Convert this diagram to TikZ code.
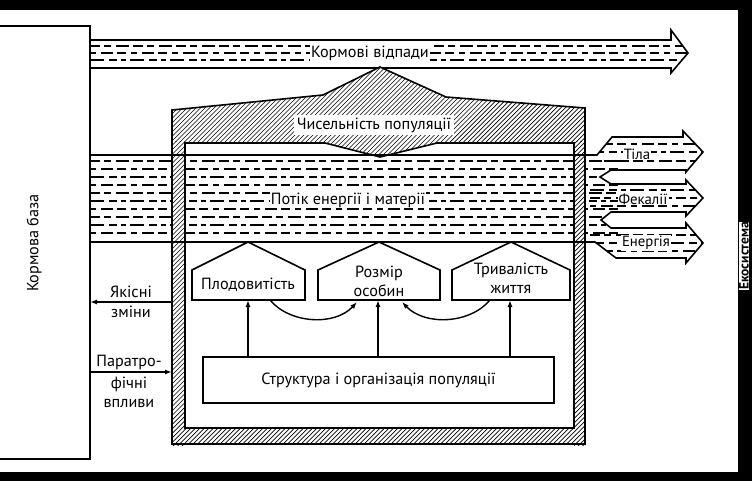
\documentclass[tikz,border=0pt]{standalone}
\usepackage{fontspec}
\setmainfont{PT Sans}
\usetikzlibrary{arrows.meta,calc}
\tikzset{
  ol/.style={line width=1.6pt},
  dA/.style={line width=1.2pt, dash pattern=on 10pt off 4pt on 7pt off 5pt on 13pt off 4pt},
  dB/.style={line width=1.2pt, dash pattern=on 6pt off 5pt on 12pt off 4pt on 9pt off 5pt},
  dC/.style={line width=1.2pt, dash pattern=on 14pt off 5pt on 8pt off 4pt on 5pt off 4pt},
  lbl/.style={font=\fontsize{16.2}{19}\selectfont, inner sep=1pt, align=center},
  slbl/.style={font=\fontsize{14.8}{17}\selectfont, inner sep=1pt, fill=white},
  tip/.style={-{Latex[length=7pt,width=5pt]}, line width=1.4pt},
  hl/.style={line width=0.7pt},
  pent/.style={ol, fill=white}
}
\newcommand{\hatchpiece}[1]{%
  \fill[white] #1;
  \begin{scope}
    \clip #1;
    \foreach \c in {-300,-295.5,...,600}{\draw[hl] (\c,460) -- (\c+420,40);}
  \end{scope}}
\begin{document}
\begin{tikzpicture}[x=1pt,y=-1pt,line join=miter]
\useasboundingbox (0,0) rectangle (752,481);
\fill[white] (0,0) rectangle (752,481);
% frame bars
\fill[black] (0,0) rectangle (752,10);
\fill[black] (738,0) rectangle (752,481);
\fill[black] (0,472) rectangle (752,481);
% feed base box
\draw[ol] (0,26) -- (90,26) -- (90,459) -- (0,459);
\node[lbl, rotate=90] (kb) at (34,243) {Кормова база};
% top band
\def\topband{(90,40) -- (671,40) -- (671,30) -- (688,53) -- (671,73) -- (671,68) -- (90,68) -- cycle}
\begin{scope}
  \clip \topband;
  \foreach \y/\st in {46/dA,53/dB,60/dC}{\draw[\st] (90,\y) -- (700,\y);}
\end{scope}
\draw[ol] \topband;
\node[lbl, fill=white] (kv) at (370,53) {Кормові відпади};
% energy band and fan
\def\eband{(90,155) -- (597,155) -- (612,137) -- (683,137) -- (683,131) -- (703,152) -- (686,172) -- (686,170) -- (611,170) -- (600,177) -- (611,184) -- (686,184) -- (686,180) -- (703,198) -- (686,216) -- (686,212) -- (611,212) -- (601,220) -- (611,228) -- (686,228) -- (686,223) -- (703,243) -- (686,263) -- (686,258) -- (616,258) -- (595,242) -- (90,242) -- cycle}
\begin{scope}
  \clip \eband;
  \foreach \y/\st in {161/dA,169/dB,177/dC,185/dB,193/dA,201/dC,209/dB,217/dA,225/dC,233/dB}{\draw[\st] (90,\y) -- (620,\y);}
  \foreach \y/\st in {144/dB,152/dC,161/dA,190/dC,198/dA,206/dB,235/dA,243/dC,251/dB}{\draw[\st] (590,\y) -- (705,\y);}
\end{scope}
\draw[ol] \eband;
\node[lbl, fill=white] (pe) at (348,200) {Потік енергії і матерії};
\node[slbl] (tl) at (637,154) {Тіла};
\node[slbl] (fk) at (643,199) {Фекалії};
\node[slbl] (en) at (646,243) {Енергія};
% hatched wall of population
\hatchpiece{(172,110) -- (323,95) -- (380,67) -- (446,97) -- (585,108) -- (585,143) -- (437,143) -- (380,157) -- (325,143) -- (172,143) -- cycle}
\hatchpiece{(172,142) rectangle (185,445)}
\hatchpiece{(574,142) rectangle (585,445)}
\hatchpiece{(184,428) rectangle (575,444)}
\draw[ol] (172,444) -- (172,110) -- (323,95) -- (380,67) -- (446,97) -- (585,108) -- (585,444) -- cycle;
\draw[ol] (185,428) -- (185,143) -- (325,143) -- (380,157) -- (437,143) -- (574,143) -- (574,428) -- cycle;
\draw[ol] (90,155) -- (597,155);
\draw[ol] (90,242) -- (595,242);
\node[lbl, fill=white, inner sep=3pt] (cp) at (374,125) {Чисельність популяції};
% pentagons
\draw[pent] (192,300) -- (192,270) -- (248,242) -- (305,270) -- (305,300) -- cycle;
\draw[pent] (318,300) -- (318,270) -- (379,242) -- (440,270) -- (440,300) -- cycle;
\draw[pent] (452,300) -- (452,270) -- (511,242) -- (570,270) -- (570,300) -- cycle;
\node[lbl] (p1) at (248,285) {Плодовитість};
\node[lbl] (p2) at (379,281) {Розмір\\особин};
\node[lbl] (p3) at (511,278) {Тривалість\\життя};
\coordinate (p1b) at (248,300);
\coordinate (p2b) at (378,300);
\coordinate (p3b) at (510,300);
\coordinate (p1c) at (270,300);
\coordinate (p2l) at (357,302);
\coordinate (p2r) at (402,302);
\coordinate (p3c) at (490,300);
% structure box
\node[lbl, ol, draw, minimum width=351pt, minimum height=46pt] (st) at (378.5,380) {Структура і організація популяції};
\draw[tip] (st.north -| p1b) -- (p1b);
\draw[tip] (st.north -| p2b) -- (p2b);
\draw[tip] (st.north -| p3b) -- (p3b);
\draw[tip] (p1c) .. controls (290,324) and (335,326) .. (p2l);
\draw[tip] (p3c) .. controls (470,324) and (425,326) .. (p2r);
% left arrows
\coordinate (w1) at (172,302);
\coordinate (b1) at (90,302);
\coordinate (w2) at (172,372);
\coordinate (b2) at (90,372);
\draw[tip] (w1) -- (b1);
\draw[tip] (b2) -- (w2);
\node[lbl] (yk) at (131,292) {Якісні};
\node[lbl] (zm) at (131,312) {зміни};
\node[lbl] (pt) at (129,362) {Паратро-};
\node[lbl] (fv) at (129,392) {фічні\\впливи};
% ecosystem label
\node[font=\fontsize{13.5}{15}\selectfont\bfseries, rotate=90, fill=white, inner sep=0.6pt] (eco) at (744,256) {Екосистема};
\end{tikzpicture}
\end{document}
